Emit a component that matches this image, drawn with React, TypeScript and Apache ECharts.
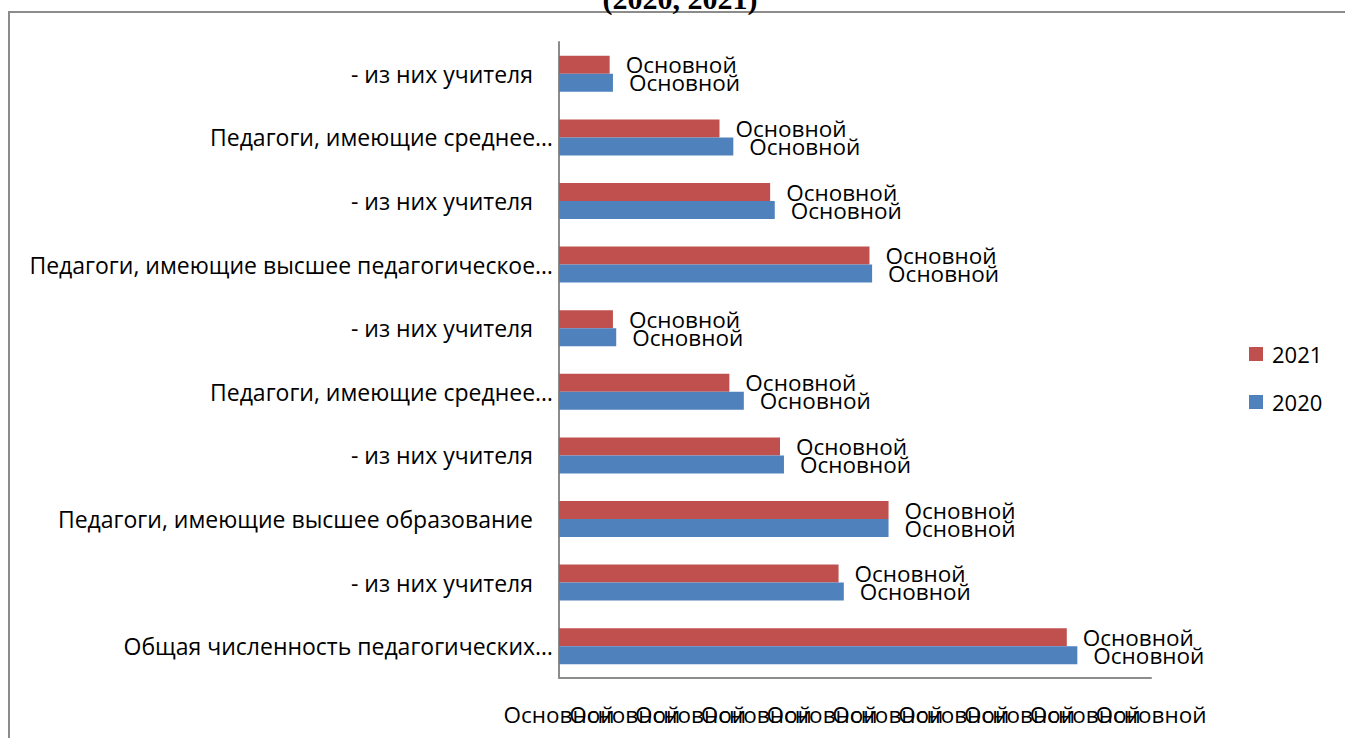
import React, { useEffect, useRef } from "react";
import * as echarts from "echarts";

const categories = [
  "Общая численность педагогических…",
  "- из них учителя",
  "Педагоги, имеющие высшее образование",
  "- из них учителя",
  "Педагоги, имеющие среднее…",
  "- из них учителя",
  "Педагоги, имеющие высшее педагогическое…",
  "- из них учителя",
  "Педагоги, имеющие среднее…",
  "- из них учителя",
];
const values2021 = [772, 425, 501, 336, 259, 82, 472, 321, 244, 77];
const values2020 = [788, 433, 501, 342, 281, 87, 476, 328, 265, 82];
const seriesNames = ["2021", "2020"];
const labelText = "Основной";
const xTickLabels = [
  "Основной", "Основной", "Основной", "Основной", "Основной",
  "Основной", "Основной", "Основной", "Основной", "Основной",
];
const titleText = "(2020, 2021)";

const FONT = "'Open Sans', sans-serif";

export default function App() {
  const ref = useRef<HTMLDivElement>(null);
  useEffect(() => {
    if (!ref.current) return;
    const chart = echarts.init(ref.current, undefined, { renderer: "svg" });
    const barLabel = {
      show: true,
      position: "right",
      distance: 16,
      formatter: () => labelText,
      color: "#000",
      fontFamily: FONT,
      fontSize: 22.5,
    };
    chart.setOption({
      animation: false,
      backgroundColor: "#fff",
      graphic: [
        {
          type: "rect",
          shape: { x: 9, y: 12, width: 1400, height: 800 },
          style: { fill: "none", stroke: "#8c8c8c", lineWidth: 2 },
          silent: true,
        },
        {
          type: "text",
          x: 680,
          y: 13,
          style: {
            text: titleText,
            font: "bold 30px 'Liberation Serif', serif",
            fill: "#000",
            align: "center",
            verticalAlign: "bottom",
          },
        },
      ],
      legend: {
        data: seriesNames,
        orient: "vertical",
        left: 1249,
        top: 343,
        padding: 0,
        itemWidth: 14,
        itemHeight: 14,
        itemGap: 26,
        icon: "rect",
        textStyle: { fontFamily: FONT, fontSize: 22, color: "#000", padding: [0, 0, 0, 4] },
      },
      grid: { left: 559, right: 194, top: 42, bottom: 60, containLabel: false },
      xAxis: [
        {
          type: "value",
          position: "bottom",
          min: 0,
          max: 900,
          interval: 100,
          axisLine: { show: true, lineStyle: { color: "#8c8c8c", width: 2 } },
          axisTick: { show: false },
          splitLine: { show: false },
          axisLabel: { show: false },
        },
        {
          type: "category",
          position: "bottom",
          data: xTickLabels,
          boundaryGap: false,
          axisLine: { show: false },
          axisTick: { show: false },
          splitLine: { show: false },
          axisLabel: {
            interval: 0,
            color: "#000",
            fontFamily: FONT,
            fontSize: 22.5,
            margin: 25,
          },
        },
      ],
      yAxis: {
        type: "category",
        data: categories,
        axisLine: { show: true, lineStyle: { color: "#8c8c8c", width: 2 } },
        axisTick: { show: false },
        axisLabel: {
          color: "#000",
          fontFamily: FONT,
          fontSize: 23,
          margin: 6,
          formatter: (v: string) => (v.endsWith("…") ? v : `{p|${v}}`),
          rich: {
            p: { fontFamily: FONT, fontSize: 23, color: "#000", padding: [0, 20, 0, 0] },
          },
        },
      },
      series: [
        {
          name: seriesNames[0],
          type: "bar",
          xAxisIndex: 0,
          data: values2021,
          barWidth: 18,
          barGap: "0%",
          itemStyle: { color: "#C0504D" },
          label: barLabel,
        },
        {
          name: seriesNames[1],
          type: "bar",
          xAxisIndex: 0,
          data: values2020,
          barWidth: 18,
          barGap: "0%",
          itemStyle: { color: "#4F81BD" },
          label: barLabel,
        },
      ],
    });
    return () => chart.dispose();
  }, []);
  return (
    <div
      ref={ref}
      style={{ position: "fixed", left: 0, top: 0, width: 1345, height: 738 }}
    />
  );
}
